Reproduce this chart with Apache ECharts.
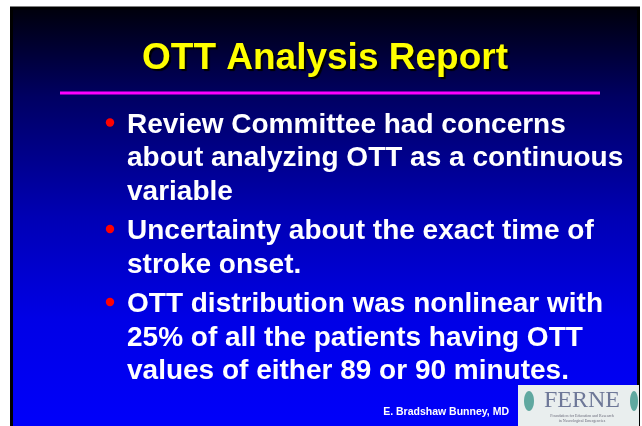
<!DOCTYPE html>
<html><head><meta charset="utf-8">
<script src="https://cdn.jsdelivr.net/npm/echarts@6/dist/echarts.min.js"></script>
<style>html,body{margin:0;padding:0;background:#fff}#c{width:642px;height:426px}</style>
</head><body><div id="c"></div>
<script>
var titleText = 'OTT Analysis Report';
var bullet1 = ['Review Committee had concerns', 'about analyzing OTT as a continuous', 'variable'];
var bullet2 = ['Uncertainty about the exact time of', 'stroke onset.'];
var bullet3 = ['OTT distribution was nonlinear with', '25% of all the patients having OTT', 'values of either 89 or 90 minutes.'];
var bullets = [bullet1, bullet2, bullet3];
var author = 'E. Bradshaw Bunney, MD';
var logoText = 'FERNE';
var logoSub = ['Foundation for Education and Research', 'in Neurological Emergencies'];

var chart = echarts.init(document.getElementById('c'), null, {renderer: 'canvas'});
var els = [];
els.push({type: 'rect', shape: {x: 11.5, y: 8, width: 627, height: 425},
  style: {fill: new echarts.graphic.LinearGradient(0, 0, 0, 1, [
    {offset: 0, color: '#00000a'}, {offset: 0.21, color: '#000062'},
    {offset: 0.49, color: '#0000b4'}, {offset: 0.73, color: '#0000e6'}, {offset: 1, color: '#0000fc'}]),
    stroke: '#000000', lineWidth: 3}});
els.push({type: 'text', x: 325, y: 59, style: {text: titleText, fill: '#ffff00',
  font: 'bold 37px "Liberation Sans", Arial, sans-serif', align: 'center', verticalAlign: 'middle',
  textShadowColor: '#000000', textShadowOffsetX: 2, textShadowOffsetY: 2, textShadowBlur: 1}});
els.push({type: 'rect', shape: {x: 60, y: 91.5, width: 540, height: 3}, style: {fill: '#ff00ff'}});
var y = 125;
var lineGap = 33.5, bulletGap = 39.5;
bullets.forEach(function (b, bi) {
  els.push({type: 'circle', shape: {cx: 110, cy: y - 2.5, r: 4.2}, style: {fill: '#ff0000'}});
  b.forEach(function (ln, li) {
    els.push({type: 'text', x: 127, y: y, style: {text: ln, fill: '#ffffff',
      font: 'bold 28px "Liberation Sans", Arial, sans-serif', verticalAlign: 'middle'}});
    if (li < b.length - 1) y += lineGap;
  });
  y += bulletGap;
});
els.push({type: 'text', x: 509, y: 412, style: {text: author, fill: '#ffffff',
  font: 'bold 10.5px "Liberation Sans", Arial, sans-serif', align: 'right', verticalAlign: 'middle'}});
els.push({type: 'rect', shape: {x: 518, y: 385, width: 121, height: 41}, style: {fill: '#e9eeee'}});
els.push({type: 'text', x: 582, y: 401, style: {text: logoText, fill: '#6e7898',
  font: '24px "Liberation Serif", "DejaVu Serif", serif', align: 'center', verticalAlign: 'middle'}});
els.push({type: 'ellipse', shape: {cx: 529, cy: 401, rx: 5, ry: 10}, style: {fill: '#5fa8a0'}});
els.push({type: 'ellipse', shape: {cx: 634, cy: 401, rx: 4, ry: 10}, style: {fill: '#5fa8a0'}});
logoSub.forEach(function (s, i) {
  els.push({type: 'text', x: 582, y: 416 + i * 5, style: {text: s, fill: '#6a6a7a',
    font: '4px "Liberation Serif", serif', align: 'center', verticalAlign: 'middle'}});
});
chart.setOption({animation: false, graphic: {elements: els}});
</script></body></html>
